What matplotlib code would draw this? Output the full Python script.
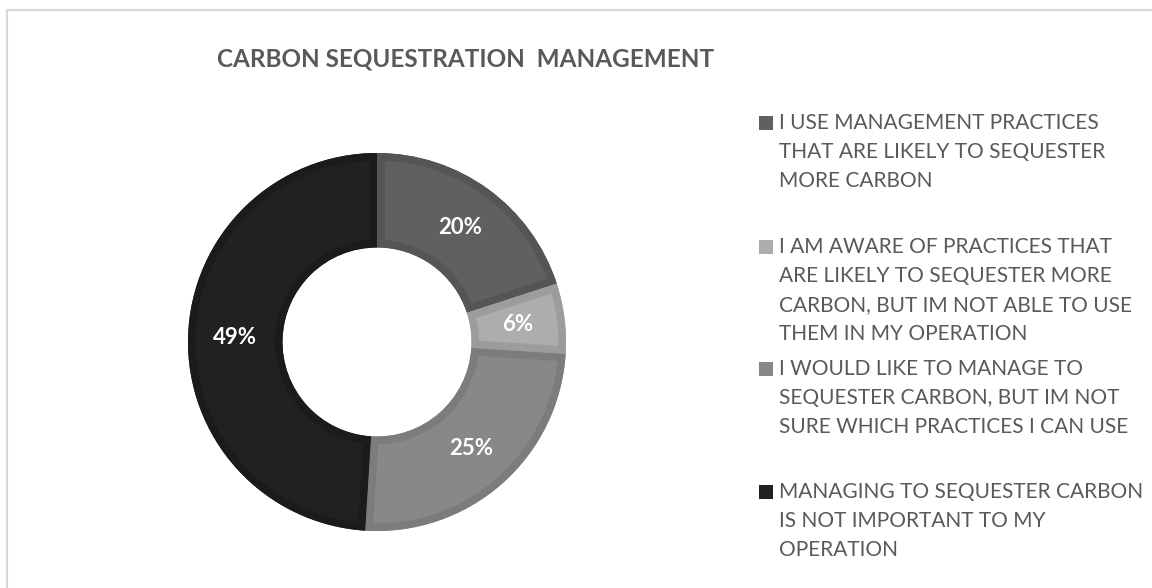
import matplotlib.pyplot as plt
from matplotlib.patches import Rectangle, Wedge

# chart data
labels = [
    "I USE MANAGEMENT PRACTICES\nTHAT ARE LIKELY TO SEQUESTER\nMORE CARBON",
    "I AM AWARE OF PRACTICES THAT\nARE LIKELY TO SEQUESTER MORE\nCARBON, BUT IM NOT ABLE TO USE\nTHEM IN MY OPERATION",
    "I WOULD LIKE TO MANAGE TO\nSEQUESTER CARBON, BUT IM NOT\nSURE WHICH PRACTICES I CAN USE",
    "MANAGING TO SEQUESTER CARBON\nIS NOT IMPORTANT TO MY\nOPERATION",
]
shares = [20, 6, 25, 49]
fill_colors = ["#606060", "#adadad", "#888888", "#212121"]
edge_colors = ["#555555", "#9c9c9c", "#7c7c7c", "#1b1b1b"]
title = "CARBON SEQUESTRATION  MANAGEMENT"

W, H = 1152, 588
plt.rcParams['font.family'] = ['Lato', 'DejaVu Sans']
fig = plt.figure(figsize=(W / 100, H / 100), dpi=100)

# light frame around the chart area
fig.patches.append(Rectangle((7 / W, -0.05), 1.1, 1 - 10 / H + 0.05, transform=fig.transFigure,
                             fill=False, edgecolor="#d9d9d9", linewidth=1.5))

# donut axes, centred at (377, 342) px, radius 189 px
cx, cy, r = 377, 342, 189
lim = 1.05
size = 2 * r * lim
ax = fig.add_axes([(cx - size / 2) / W, (H - cy - size / 2) / H, size / W, size / H])

wedges, texts, autotexts = ax.pie(
    shares, colors=fill_colors, startangle=90, counterclock=False,
    radius=1.0, autopct="%d%%", pctdistance=0.75,
    wedgeprops=dict(width=0.5, edgecolor="none"),
    textprops=dict(color="white", fontsize=16, fontweight="bold"))

# inner bevel outline, clipped to each slice
for w, ec in zip(wedges, edge_colors):
    outline = Wedge(w.center, w.r, w.theta1, w.theta2, width=w.width,
                    facecolor="none", edgecolor=ec, linewidth=11)
    ax.add_patch(outline)
    outline.set_clip_path(w)

ax.set_xlim(-lim, lim)
ax.set_ylim(-lim, lim)
ax.set_aspect("equal")
ax.axis("off")

fig.text(466 / W, 1 - 59 / H, title, ha="center", va="center",
         fontsize=17.5, fontweight="bold", color="#595959")

# legend drawn by hand, Excel-style spacing
entry_tops = [123, 247, 369, 492]
line_step = 29
for lab, col, y0 in zip(labels, fill_colors, entry_tops):
    fig.patches.append(Rectangle((759 / W, 1 - (y0 + 7) / H), 14 / W, 14 / H,
                                 transform=fig.transFigure, facecolor=col, edgecolor="none"))
    for k, line in enumerate(lab.split("\n")):
        fig.text(779 / W, 1 - (y0 + k * line_step) / H, line, ha="left", va="center",
                 fontsize=15, color="#595959")

plt.savefig("out.png", dpi=100)
